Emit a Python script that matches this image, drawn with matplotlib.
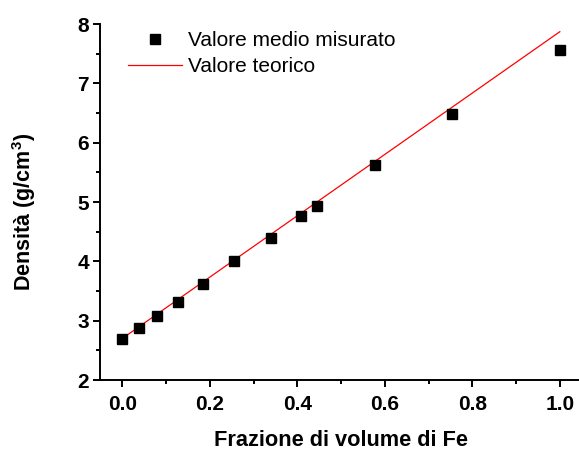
import numpy as np
import matplotlib
matplotlib.use("Agg")
import matplotlib.pyplot as plt
from matplotlib.lines import Line2D
from matplotlib.ticker import MultipleLocator

plt.rcParams['font.family'] = ['Liberation Sans', 'DejaVu Sans']
plt.rcParams['mathtext.default'] = 'regular'

# measured mean density vs Fe volume fraction
frac_fe = [0.0, 0.037, 0.079, 0.128, 0.185, 0.255, 0.339, 0.408, 0.444,
           0.577, 0.754, 1.0]
rho_meas = [2.69, 2.87, 3.08, 3.31, 3.62, 4.01, 4.39, 4.76, 4.93,
            5.62, 6.49, 7.56]

# rule of mixtures between pure Al and pure Fe
frac_theory = [0.0, 1.0]
rho_theory = [2.70, 7.87]

W, H = 579, 450
fig = plt.figure(figsize=(W / 100, H / 100), dpi=100)

xmin, xmax = -0.051, 1.05
px_per_unit = 437.5
ax = fig.add_axes([100 / W, 70 / H, (xmax - xmin) * px_per_unit / W, 356 / H])

ax.plot(frac_theory, rho_theory, color='red', lw=0.9, zorder=2)
ax.plot(frac_fe, rho_meas, 's', color='black', ms=7, zorder=3)

ax.set_xlim(xmin, xmax)
ax.set_ylim(2, 8)
ax.set_xticks(np.arange(0, 1.01, 0.2))
ax.xaxis.set_minor_locator(MultipleLocator(0.1))
ax.yaxis.set_major_locator(MultipleLocator(1))
ax.yaxis.set_minor_locator(MultipleLocator(0.5))
ax.xaxis.set_major_formatter(plt.FuncFormatter(lambda v, p: f"{v:.1f}"))

for side in ('top', 'right'):
    ax.spines[side].set_visible(False)
for side in ('left', 'bottom'):
    ax.spines[side].set_linewidth(1.4)

ax.tick_params(which='major', direction='out', length=5, width=1.4,
               labelsize=15, pad=3)
ax.tick_params(which='minor', direction='out', length=3, width=1.4)
ax.tick_params(axis='x', which='major', pad=6)
for lab in ax.get_xticklabels() + ax.get_yticklabels():
    lab.set_fontweight('bold')

ax.set_xlabel("Frazione di volume di Fe", fontsize=15.7, fontweight='bold')
ax.set_ylabel("Densità (g/cm$^{3}$)", fontsize=15.5, fontweight='bold')
ax.xaxis.set_label_coords(341 / W, 1 - 441 / H, transform=fig.transFigure)
ax.yaxis.set_label_coords(24 / W, 1 - 212 / H, transform=fig.transFigure)
ax.xaxis.label.set_va('center')
ax.yaxis.label.set_va('center')

handles = [
    Line2D([], [], marker='s', color='black', ls='none', ms=7),
    Line2D([], [], color='red', lw=0.9),
]
ax.legend(handles, ["Valore medio misurato", "Valore teorico"],
          loc='upper left', bbox_to_anchor=(128 / W, 1 - 31 / H),
          bbox_transform=fig.transFigure, frameon=False, fontsize=15,
          handlelength=2.58, handletextpad=0.31, labelspacing=0.36,
          borderpad=0, borderaxespad=0)

fig.savefig("out.png", dpi=100)
